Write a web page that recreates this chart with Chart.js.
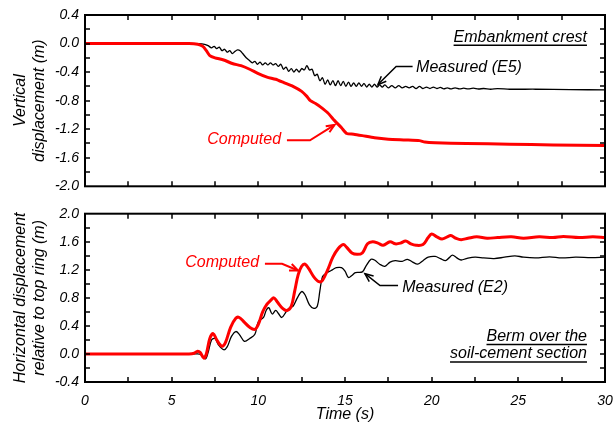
<!DOCTYPE html>
<html>
<head>
<meta charset="utf-8">
<script src="https://cdn.jsdelivr.net/npm/chart.js@4.4.0/dist/chart.umd.min.js"></script>
<style>
  html, body { margin: 0; padding: 0; background: #fff; }
  #wrap { position: relative; width: 614px; height: 423px; overflow: hidden; }
  #chartTop { position: absolute; left: 0; top: 0; }
  #chartBottom { position: absolute; left: 0; top: 200px; }
</style>
</head>
<body>
<div id="wrap">
  <canvas id="chartTop" width="614" height="200"></canvas>
  <canvas id="chartBottom" width="614" height="223"></canvas>
</div>
<script>
// ---- data ----
// top panel: vertical displacement at the embankment crest (m)
const topComputedTime = [0, 6.0, 6.5, 6.8, 7.0, 7.2, 7.5, 8.0, 8.5, 9.0, 9.5, 10.0, 10.5, 11.0, 11.5, 12.0, 12.5, 12.8, 13.0, 13.3, 13.6, 14.0, 14.4, 14.8, 15.1, 15.5, 16.0, 16.7, 17.5, 18.5, 19.3, 19.6, 20.2, 22.0, 24.5, 27.0, 30.0];
const topComputedDisp = [0, 0, -0.01, -0.04, -0.1, -0.17, -0.2, -0.23, -0.28, -0.31, -0.36, -0.42, -0.47, -0.5, -0.55, -0.6, -0.67, -0.74, -0.8, -0.84, -0.89, -0.97, -1.08, -1.18, -1.26, -1.27, -1.29, -1.32, -1.34, -1.35, -1.36, -1.38, -1.39, -1.40, -1.41, -1.42, -1.43];

const topMeasuredTime = [0, 6.6, 6.9, 7.1, 7.3, 7.45, 7.6, 7.75, 7.9, 8.05, 8.2, 8.35, 8.5, 8.65, 8.8, 8.95, 9.1, 9.3, 9.5, 9.65, 9.8, 9.95, 10.1, 10.25, 10.4, 10.55, 10.7, 10.85, 11.0, 11.15, 11.3, 11.45, 11.6, 11.75, 11.9, 12.05, 12.2, 12.35, 12.5, 12.65, 12.8, 12.95, 13.1, 13.25, 13.4, 13.55, 13.7, 13.85, 14.0, 14.15, 14.3, 14.45, 14.6, 14.75, 14.9, 15.05, 15.2, 15.35, 15.5, 15.65, 15.8, 15.95, 16.1, 16.25, 16.4, 16.55, 16.7, 16.85, 17.0, 17.15, 17.3, 17.5, 17.7, 17.9, 18.1, 18.3, 18.5, 18.7, 18.9, 19.1, 19.3, 19.5, 19.7, 19.9, 20.1, 20.3, 20.5, 20.7, 20.9, 21.1, 21.35, 21.6, 21.85, 22.1, 22.4, 22.7, 23.0, 23.4, 23.8, 24.5, 26.0, 28.0, 30.0];
const topMeasuredDisp = [0, 0, -0.01, -0.03, -0.06, -0.04, -0.07, -0.05, -0.1, -0.08, -0.12, -0.1, -0.14, -0.11, -0.09, -0.1, -0.14, -0.2, -0.24, -0.27, -0.25, -0.29, -0.26, -0.3, -0.27, -0.3, -0.27, -0.3, -0.28, -0.32, -0.29, -0.36, -0.33, -0.39, -0.35, -0.4, -0.36, -0.4, -0.35, -0.37, -0.31, -0.37, -0.36, -0.45, -0.43, -0.52, -0.48, -0.57, -0.51, -0.58, -0.52, -0.59, -0.52, -0.59, -0.53, -0.6, -0.54, -0.6, -0.55, -0.6, -0.55, -0.6, -0.56, -0.61, -0.57, -0.61, -0.57, -0.61, -0.58, -0.61, -0.58, -0.62, -0.59, -0.62, -0.59, -0.62, -0.6, -0.62, -0.6, -0.63, -0.6, -0.63, -0.61, -0.63, -0.61, -0.63, -0.615, -0.635, -0.62, -0.635, -0.62, -0.635, -0.625, -0.635, -0.625, -0.637, -0.63, -0.64, -0.632, -0.64, -0.64, -0.645, -0.65];

// bottom panel: horizontal displacement of the berm relative to top ring (m)
const botComputedTime = [0, 6.0, 6.3, 6.5, 6.65, 6.85, 7.0, 7.2, 7.4, 7.6, 7.9, 8.1, 8.4, 8.7, 8.9, 9.2, 9.5, 9.8, 10.0, 10.25, 10.5, 10.7, 10.9, 11.1, 11.4, 11.65, 11.9, 12.1, 12.3, 12.5, 12.7, 12.9, 13.2, 13.5, 13.7, 14.0, 14.3, 14.6, 14.9, 15.1, 15.4, 15.7, 16.0, 16.3, 16.6, 16.9, 17.2, 17.6, 17.9, 18.2, 18.5, 18.8, 19.1, 19.5, 19.8, 20.0, 20.3, 20.6, 20.9, 21.1, 21.4, 21.7, 22.1, 22.6, 23.2, 23.8, 24.6, 25.3, 26.2, 27.0, 27.6, 28.5, 29.3, 30.0];
const botComputedDisp = [0, 0, 0.01, 0.04, 0.02, -0.06, 0.0, 0.22, 0.29, 0.2, 0.11, 0.16, 0.38, 0.51, 0.52, 0.45, 0.38, 0.35, 0.42, 0.6, 0.71, 0.76, 0.8, 0.74, 0.65, 0.62, 0.68, 0.9, 1.13, 1.25, 1.28, 1.22, 1.1, 1.03, 1.05, 1.2, 1.38, 1.5, 1.56, 1.52, 1.44, 1.42, 1.44, 1.57, 1.6, 1.58, 1.55, 1.6, 1.57, 1.58, 1.61, 1.57, 1.55, 1.56, 1.66, 1.71, 1.67, 1.64, 1.67, 1.69, 1.65, 1.63, 1.65, 1.67, 1.65, 1.66, 1.67, 1.65, 1.67, 1.66, 1.675, 1.66, 1.67, 1.66];

const botMeasuredTime = [0, 6.5, 6.75, 6.95, 7.1, 7.3, 7.5, 7.7, 8.0, 8.2, 8.45, 8.7, 8.9, 9.2, 9.5, 9.8, 10.0, 10.3, 10.45, 10.6, 10.8, 11.0, 11.15, 11.35, 11.6, 11.8, 12.0, 12.25, 12.5, 12.7, 12.95, 13.2, 13.4, 13.55, 13.7, 13.9, 14.2, 14.5, 14.8, 15.0, 15.2, 15.4, 15.6, 16.0, 16.2, 16.5, 16.7, 17.0, 17.3, 17.6, 17.9, 18.3, 18.6, 18.9, 19.2, 19.5, 19.8, 20.2, 20.5, 20.8, 21.0, 21.2, 21.45, 21.7, 22.0, 22.5, 23.0, 23.6, 24.2, 24.8, 25.3, 26.0, 26.8, 27.5, 28.3, 29.2, 30.0];
const botMeasuredDisp = [0, 0, -0.02, -0.07, 0.02, 0.2, 0.22, 0.13, 0.06, 0.1, 0.25, 0.32, 0.28, 0.18, 0.22, 0.28, 0.46, 0.52, 0.62, 0.66, 0.57, 0.62, 0.58, 0.52, 0.6, 0.66, 0.68, 0.8, 0.89, 0.84, 0.7, 0.65, 0.68, 0.9, 1.1, 1.15, 1.19, 1.23, 1.23, 1.18, 1.09, 1.12, 1.16, 1.17, 1.25, 1.35, 1.34, 1.28, 1.25, 1.31, 1.33, 1.32, 1.35, 1.31, 1.28, 1.33, 1.38, 1.39, 1.36, 1.33, 1.37, 1.41, 1.37, 1.34, 1.36, 1.38, 1.37, 1.36, 1.38, 1.4, 1.38, 1.37, 1.385, 1.37, 1.38, 1.375, 1.38];

const timeTicks = [0, 5, 10, 15, 20, 25, 30];
const topDispTicks = [-2.0, -1.6, -1.2, -0.8, -0.4, 0.0, 0.4];
const botDispTicks = [-0.4, 0.0, 0.4, 0.8, 1.2, 1.6, 2.0];

// ---- drawing ----
const FONT = '"Liberation Sans", Arial, sans-serif';
Chart.defaults.font.family = FONT;
Chart.defaults.color = '#000';

const RED = '#ff0000';
const pts = (ts, vs) => ts.map((t, i) => ({ x: t, y: vs[i] }));

// frame with inward ticks every 2.5 s and every 0.2 m
const frameTicks = {
  id: 'frameTicks',
  afterDatasetsDraw(chart) {
    const { ctx, chartArea: a, scales: { x, y } } = chart;
    ctx.save();
    ctx.strokeStyle = '#000';
    ctx.lineWidth = 1.5;
    ctx.beginPath();
    for (let t = x.min + 2.5; t < x.max - 0.01; t += 2.5) {
      const px = Math.round(x.getPixelForValue(t));
      ctx.moveTo(px, a.top); ctx.lineTo(px, a.top + 5);
      ctx.moveTo(px, a.bottom); ctx.lineTo(px, a.bottom - 5);
    }
    for (let v = y.min + 0.2; v < y.max - 0.01; v += 0.2) {
      const py = Math.round(y.getPixelForValue(v));
      ctx.moveTo(a.left, py); ctx.lineTo(a.left + 5, py);
      ctx.moveTo(a.right, py); ctx.lineTo(a.right - 5, py);
    }
    ctx.stroke();
    ctx.lineWidth = 2;
    ctx.strokeRect(a.left, a.top, a.right - a.left, a.bottom - a.top);
    ctx.restore();
  }
};

// text labels and leader arrows, placed in data units
const notes = {
  id: 'notes',
  afterDraw(chart, args, opts) {
    const { ctx, scales: { x, y } } = chart;
    ctx.save();
    ctx.font = 'italic 16px ' + FONT;
    ctx.textBaseline = 'middle';
    (opts.items || []).forEach(n => {
      const px = x.getPixelForValue(n.t), py = y.getPixelForValue(n.v);
      ctx.fillStyle = n.color;
      ctx.strokeStyle = n.color;
      ctx.textAlign = n.align;
      ctx.fillText(n.text, px, py);
      if (n.underline) {
        const w = ctx.measureText(n.text).width;
        const x0 = n.align === 'right' ? px - w : px;
        ctx.lineWidth = 1.5;
        ctx.beginPath();
        ctx.moveTo(x0, py + 8); ctx.lineTo(x0 + w, py + 8);
        ctx.stroke();
      }
      if (n.arrow) {
        const p = n.arrow.map(q => [x.getPixelForValue(q[0]), y.getPixelForValue(q[1])]);
        ctx.lineWidth = n.lw;
        ctx.beginPath();
        ctx.moveTo(p[0][0], p[0][1]);
        p.slice(1).forEach(q => ctx.lineTo(q[0], q[1]));
        ctx.stroke();
        const tip = p[p.length - 1], prev = p[p.length - 2];
        const ang = Math.atan2(tip[1] - prev[1], tip[0] - prev[0]);
        ctx.beginPath();
        ctx.moveTo(tip[0] - 9 * Math.cos(ang - 0.4), tip[1] - 9 * Math.sin(ang - 0.4));
        ctx.lineTo(tip[0], tip[1]);
        ctx.lineTo(tip[0] - 9 * Math.cos(ang + 0.4), tip[1] - 9 * Math.sin(ang + 0.4));
        ctx.stroke();
      }
    });
    ctx.restore();
  }
};

const tickFont = { size: 14, style: 'italic', lineHeight: 1.1 };
const titleFont = { size: 16, style: 'italic', lineHeight: 1.2 };

function yScale(min, max, ticks, title) {
  return {
    type: 'linear', min, max,
    afterBuildTicks: s => { s.ticks = ticks.map(v => ({ value: v })); },
    ticks: { callback: v => v.toFixed(1), padding: 6, font: tickFont, color: '#000' },
    grid: { display: false, drawTicks: false },
    border: { display: false },
    title: { display: true, text: title, font: titleFont, color: '#000', padding: { top: 11, bottom: 0 } },
    afterFit: s => { s.width = 85; }
  };
}

function lineSet(ts, vs, color, width, tension) {
  return {
    data: pts(ts, vs), borderColor: color, borderWidth: width,
    pointRadius: 0, fill: false, tension
  };
}

new Chart(document.getElementById('chartTop'), {
  type: 'line',
  data: {
    datasets: [
      lineSet(topComputedTime, topComputedDisp, RED, 3, 0.2),
      lineSet(topMeasuredTime, topMeasuredDisp, '#000', 1.3, 0.3)
    ]
  },
  options: {
    responsive: false, animation: false, events: [],
    layout: { padding: { top: 15, right: 9, bottom: 11, left: 0 } },
    plugins: {
      legend: { display: false }, tooltip: { enabled: false },
      notes: {
        items: [
          { text: 'Embankment crest', t: 28.96, v: 0.09, align: 'right', color: '#000', underline: true },
          { text: 'Measured (E5)', t: 19.1, v: -0.33, align: 'left', color: '#000', lw: 1.5,
            arrow: [[18.9, -0.32], [17.95, -0.32], [16.9, -0.575]] },
          { text: 'Computed', t: 11.31, v: -1.35, align: 'right', color: RED, lw: 2,
            arrow: [[11.65, -1.355], [12.98, -1.355], [14.4, -1.14]] }
        ]
      }
    },
    scales: {
      x: { type: 'linear', min: 0, max: 30, display: false },
      y: yScale(-2.0, 0.4, topDispTicks, ['Vertical', 'displacement (m)'])
    }
  },
  plugins: [frameTicks, notes]
});

new Chart(document.getElementById('chartBottom'), {
  type: 'line',
  data: {
    datasets: [
      lineSet(botComputedTime, botComputedDisp, RED, 3, 0.35),
      lineSet(botMeasuredTime, botMeasuredDisp, '#000', 1.3, 0.35)
    ]
  },
  options: {
    responsive: false, animation: false, events: [],
    layout: { padding: { top: 8, right: 9, bottom: 0, left: 0 } },
    plugins: {
      legend: { display: false }, tooltip: { enabled: false },
      notes: {
        items: [
          { text: 'Computed', t: 10.04, v: 1.30, align: 'right', color: RED, lw: 2,
            arrow: [[10.38, 1.285], [11.37, 1.285], [12.29, 1.19]] },
          { text: 'Measured (E2)', t: 18.3, v: 0.95, align: 'left', color: '#000', lw: 1.5,
            arrow: [[18.06, 0.975], [17.02, 0.975], [16.15, 1.145]] },
          { text: 'Berm over the', t: 28.96, v: 0.25, align: 'right', color: '#000', underline: true },
          { text: 'soil-cement section', t: 28.96, v: 0.0, align: 'right', color: '#000', underline: true }
        ]
      }
    },
    scales: {
      x: {
        type: 'linear', min: 0, max: 30,
        afterBuildTicks: s => { s.ticks = timeTicks.map(v => ({ value: v })); },
        ticks: { callback: v => String(v), padding: 0, font: tickFont, color: '#000', maxRotation: 0 },
        grid: { display: true, drawOnChartArea: false, drawTicks: true, tickLength: 11, tickColor: 'rgba(0,0,0,0)' },
        border: { display: false },
        title: { display: true, text: 'Time (s)', font: { size: 16, style: 'italic', lineHeight: 1.1 }, color: '#000', padding: { top: 0, bottom: 0 } },
        afterFit: s => { s.height = 41; }
      },
      y: yScale(-0.4, 2.0, botDispTicks, ['Horizontal displacement', 'relative to top ring (m)'])
    }
  },
  plugins: [frameTicks, notes]
});
</script>
</body>
</html>
